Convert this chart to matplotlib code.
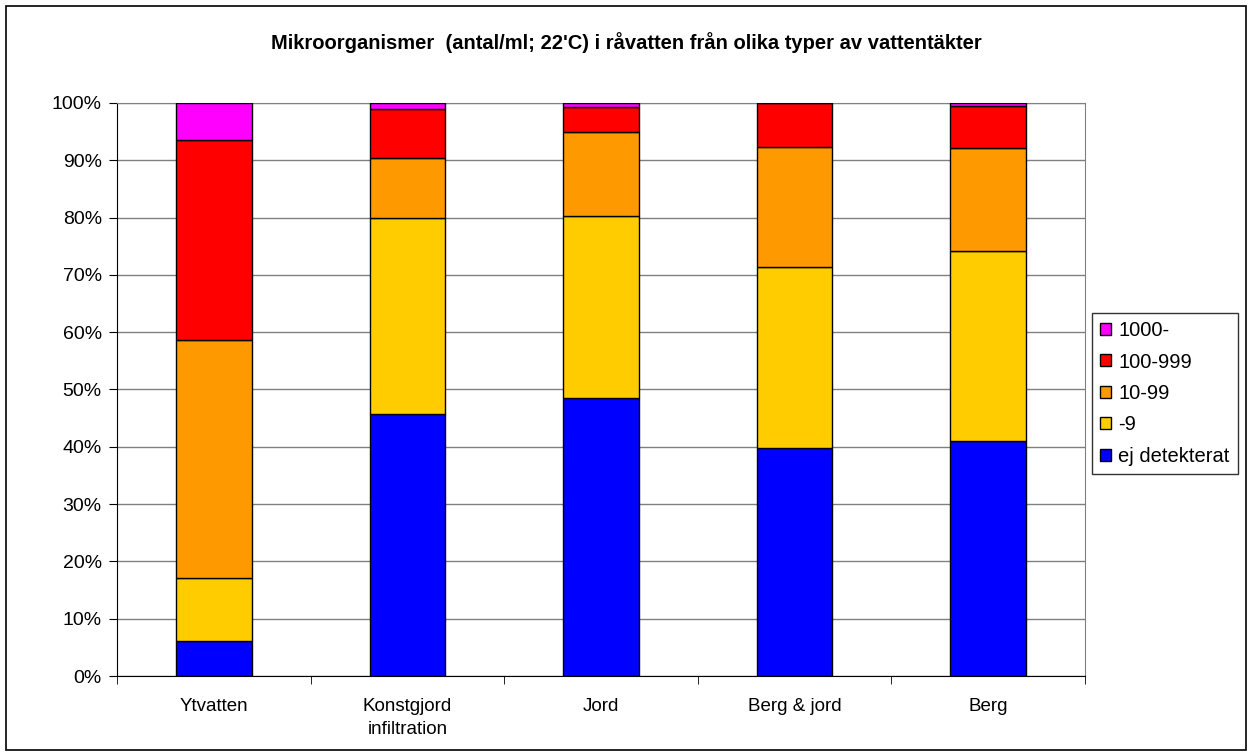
import numpy as np
import matplotlib.pyplot as plt
from matplotlib.patches import Rectangle

plt.rcParams['font.family'] = ['Liberation Sans', 'DejaVu Sans']

categories = ["Ytvatten", "Konstgjord\ninfiltration", "Jord", "Berg & jord", "Berg"]
series_names = ["ej detekterat", "-9", "10-99", "100-999", "1000-"]
ej_detekterat = [6.1, 45.7, 48.5, 39.8, 41.0]
upp_till_9 = [11.0, 34.2, 31.8, 31.6, 33.2]
tio_99 = [41.5, 10.5, 14.6, 20.9, 17.9]
hundra_999 = [34.9, 8.6, 4.4, 7.7, 7.3]
tusen_plus = [6.5, 1.0, 0.7, 0.0, 0.6]
colors = ["#0000FF", "#FFCC00", "#FF9900", "#FF0000", "#FF00FF"]


def main():
    fig = plt.figure(figsize=(12.52, 7.56), dpi=100)
    fig.patches.append(Rectangle((0.005, 0.008), 0.99, 0.984, transform=fig.transFigure,
                                 fill=False, edgecolor="black", linewidth=1.2))
    ax = fig.add_axes([0.0935, 0.1058, 0.773, 0.758])

    data = np.array([ej_detekterat, upp_till_9, tio_99, hundra_999, tusen_plus])
    data = data / data.sum(axis=0) * 100
    x = np.arange(len(categories))
    bottom = np.zeros(len(categories))
    handles = []
    for vals, name, color in zip(data, series_names, colors):
        h = ax.bar(x, vals, bottom=bottom, width=0.39, color=color,
                   edgecolor="black", linewidth=1, label=name, zorder=3)
        handles.append(h)
        bottom += vals

    ax.set_xlim(-0.5, len(categories) - 0.5)
    ax.set_ylim(0, 100)
    ax.set_yticks(np.arange(0, 101, 10))
    ax.set_yticklabels([f"{v}%" for v in range(0, 101, 10)], fontsize=14)
    ax.yaxis.grid(True, color="#808080", linewidth=1, zorder=0)
    ax.set_xticks(x)
    ax.set_xticklabels(categories, fontsize=13.5, linespacing=1.45)
    ax.tick_params(axis="x", which="major", length=0, pad=16)
    ax.set_xticks(np.arange(-0.5, len(categories)), minor=True)
    ax.tick_params(axis="x", which="minor", length=6, direction="out", color="black")
    ax.tick_params(axis="y", length=6, direction="out", pad=5)

    for side in ["top", "right"]:
        ax.spines[side].set_color("#808080")
    for side in ["left", "bottom"]:
        ax.spines[side].set_color("black")

    fig.suptitle("Mikroorganismer  (antal/ml; 22'C) i råvatten från olika typer av vattentäkter",
                 x=0.5, y=0.958, fontsize=14.5, fontweight="bold")

    leg = fig.legend(handles[::-1], series_names[::-1], loc="upper left",
                     bbox_to_anchor=(0.8723, 0.586), fontsize=14.5, frameon=True,
                     fancybox=False, edgecolor="black", handlelength=0.55,
                     handleheight=0.55, handletextpad=0.35, labelspacing=0.62,
                     borderpad=0.4, borderaxespad=0)
    leg.get_frame().set_linewidth(1)

    fig.savefig("out.png", dpi=100)


if __name__ == "__main__":
    main()
